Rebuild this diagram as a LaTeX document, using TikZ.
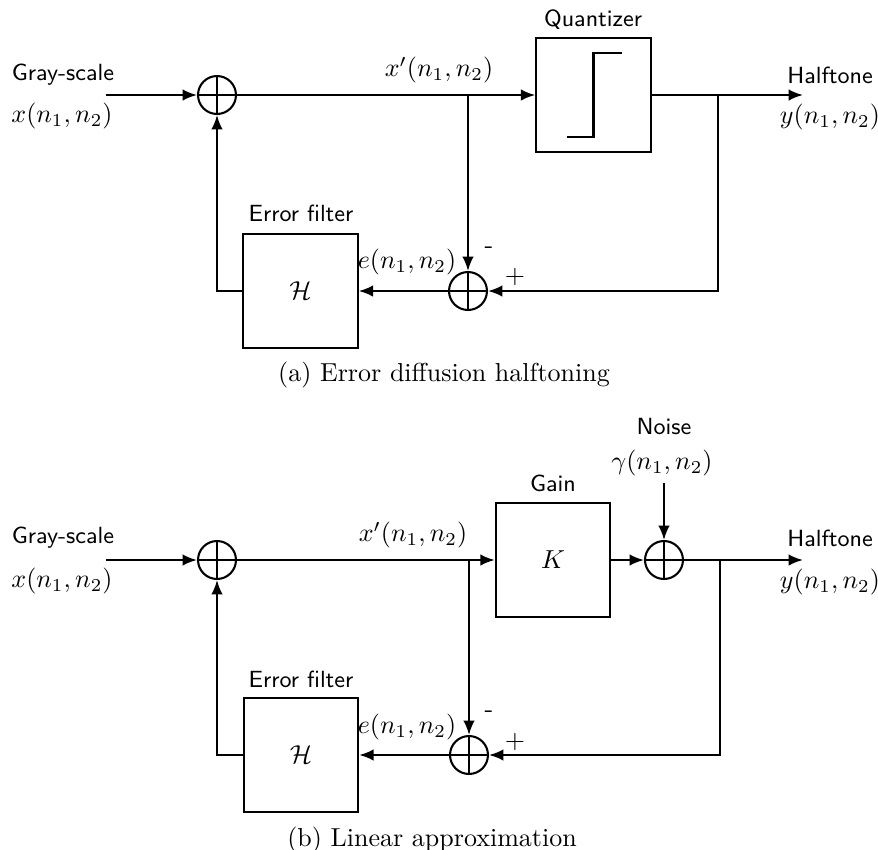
\documentclass[tikz,border=0pt]{standalone}
\usetikzlibrary{arrows.meta}

\begin{document}
\begin{tikzpicture}[x=0.3846pt, y=-0.3846pt,
  line width=0.8pt,
  arr/.style={-{Latex[length=5.5pt,width=4.4pt]}},
  lbl/.style={font=\sffamily\small},
  blk/.style={draw, minimum width=44pt, minimum height=44pt, inner sep=0pt},
  sumnode/.style={circle, draw, minimum size=14.6pt, inner sep=0pt,
    path picture={\draw (path picture bounding box.north) -- (path picture bounding box.south)
      (path picture bounding box.west) -- (path picture bounding box.east);}}]
  \useasboundingbox (0,0) rectangle (878,850);

  % (a) Error diffusion
  \node[lbl] (gsA) at (63,75) {Gray-scale};
  \node (xA) at (62,116) {$x(n_1,n_2)$};
  \coordinate (inA) at (106,95);
  \node[sumnode] (s1A) at (217,95) {};
  \node (xpA) at (439,70) {$x'(n_1,n_2)$};
  \node[blk] (qA) at (593.5,95) {};
  \node[lbl] (qlA) at (593,20) {Quantizer};
  \draw ([shift={(-26.5,42)}]qA.center) -- ([shift={(0,42)}]qA.center)
    -- ([shift={(0,-42)}]qA.center) -- ([shift={(28.5,-42)}]qA.center);
  \coordinate (outA) at (803,95);
  \node[lbl] (htA) at (830,75) {Halftone};
  \node (yA) at (830,117) {$y(n_1,n_2)$};
  \coordinate (tapA) at (468,95);
  \coordinate (brA) at (718,95);
  \coordinate (cnA) at (718,291);
  \node[sumnode] (s2A) at (468,291) {};
  \node (mA) at (489,250) {\sffamily -};
  \node (pA) at (515,277) {$+$};
  \node (eA) at (407,262) {$e(n_1,n_2)$};
  \node[blk] (hA) at (300.5,291) {$\mathcal{H}$};
  \node[lbl] (hlA) at (301,213) {Error filter};
  \coordinate (fbA) at (217,291);
  \draw[arr] (inA) -- (s1A);
  \draw[arr] (s1A) -- (qA);
  \draw[arr] (qA) -- (outA);
  \draw[arr] (tapA) -- (s2A);
  \draw[arr] (brA) -- (cnA) -- (s2A);
  \draw[arr] (s2A) -- (hA);
  \draw[arr] (hA) -- (fbA) -- (s1A);
  \node (capA) at (444,375) {(a) Error diffusion halftoning};

  % (b) Linear approximation
  \node[lbl] (gsB) at (63,538) {Gray-scale};
  \node (xB) at (62,581) {$x(n_1,n_2)$};
  \coordinate (inB) at (106,560);
  \node[sumnode] (s1B) at (217,560) {};
  \node (xpB) at (413,535) {$x'(n_1,n_2)$};
  \node[blk] (gB) at (553,560) {$K$};
  \node[lbl] (glB) at (553,483) {Gain};
  \node[sumnode] (nB) at (664,560) {};
  \node[lbl] (nlB) at (664,427) {Noise};
  \node (gmB) at (662,463) {$\gamma(n_1,n_2)$};
  \coordinate (nzB) at (664,483);
  \coordinate (outB) at (803,560);
  \node[lbl] (htB) at (830,538) {Halftone};
  \node (yB) at (830,582) {$y(n_1,n_2)$};
  \coordinate (tapB) at (469,560);
  \coordinate (brB) at (720,560);
  \coordinate (cnB) at (720,755);
  \node[sumnode] (s2B) at (469,755) {};
  \node (mB) at (489,714) {\sffamily -};
  \node (pB) at (515,742) {$+$};
  \node (eB) at (407,727) {$e(n_1,n_2)$};
  \node[blk] (hB) at (301,755) {$\mathcal{H}$};
  \node[lbl] (hlB) at (301,679) {Error filter};
  \coordinate (fbB) at (217,755);
  \draw[arr] (inB) -- (s1B);
  \draw[arr] (s1B) -- (gB);
  \draw[arr] (gB) -- (nB);
  \draw[arr] (nzB) -- (nB);
  \draw[arr] (nB) -- (outB);
  \draw[arr] (tapB) -- (s2B);
  \draw[arr] (brB) -- (cnB) -- (s2B);
  \draw[arr] (s2B) -- (hB);
  \draw[arr] (hB) -- (fbB) -- (s1B);
  \node (capB) at (432,840) {(b) Linear approximation};
\end{tikzpicture}
\end{document}
